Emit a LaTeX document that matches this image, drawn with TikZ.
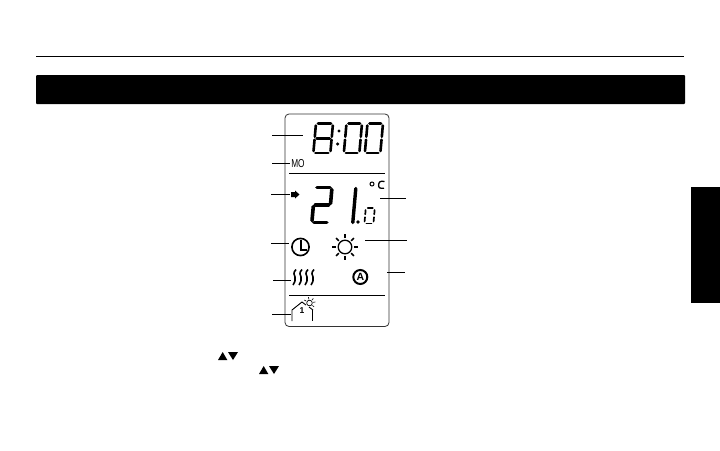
\documentclass[tikz,border=0pt]{standalone}
\usepackage{fontspec}
\setmainfont{Liberation Sans}
\newcommand{\lcdseg}[6]{%
  % #1 x,#2 y,#3 w,#4 h,#5 list of segments,#6 line width
  \begin{scope}[shift={(#1,#2)},xslant=0.09,line width=#6,line cap=round]
  \pgfmathsetmacro{\mw}{#3}\pgfmathsetmacro{\mh}{#4}
  \pgfmathsetmacro{\mm}{#4/2}
  \foreach \s in {#5}{
    \ifcase\s\relax
      \draw[line width=#6] (2,0) -- (\mw-2,0);
    \or \draw[line width=#6] (\mw,2) -- (\mw,\mm-1.5);
    \or \draw[line width=#6] (\mw,\mm+1.5) -- (\mw,\mh-2);
    \or \draw[line width=#6] (2,\mh) -- (\mw-2,\mh);
    \or \draw[line width=#6] (0,\mm+1.5) -- (0,\mh-2);
    \or \draw[line width=#6] (0,2) -- (0,\mm-1.5);
    \or \draw[line width=#6] (2,\mm) -- (\mw-2,\mm);
    \fi
  }
  \end{scope}}
\tikzset{
  leader/.style={draw=black,line width=0.9pt},
  rulethin/.style={draw=black,line width=1pt},
  lcdtext/.style={inner sep=0pt,font=\fontsize{11.5}{11.5}\selectfont},
}
\begin{document}
\begin{tikzpicture}[x=1pt,y=-1pt]
\useasboundingbox (0,0) rectangle (720,450);
\fill[white] (0,0) rectangle (720,450);
% header
\draw[line width=1pt] (36,56.5) -- (684,56.5);
\fill[black,rounded corners=1pt] (36,75) rectangle (685,104);
\fill[black] (691,187) rectangle (720,303);
% LCD frame
\draw[line width=0.8pt,rounded corners=4pt,draw=black!80] (285,114) rectangle (389,326.5);
\draw[rulethin] (289,173) -- (385,173);
\draw[rulethin] (289,295.5) -- (385,295.5);
% top digits
\lcdseg{316}{123.5}{17}{29.5}{0,1,2,3,4,5,6}{2.6pt}
\lcdseg{346.5}{123.5}{15.5}{29.5}{0,1,2,3,4,5}{2.6pt}
\lcdseg{367.5}{123.5}{15.5}{29.5}{0,1,2,3,4,5}{2.6pt}
\fill (339,131) circle (1.7);
\fill (337.6,144) circle (1.7);
% 21.0
\lcdseg{315}{187.5}{17}{35}{0,1,3,4,6}{3.6pt}
\draw[line width=3.4pt,line cap=round] (355.8,188.5) -- (352.8,222.5);
\fill (358,222) circle (1.8);
\lcdseg{365.8}{208}{9}{15.5}{0,1,2,3,4,5}{1.7pt}
% degrees C
\draw[line width=1pt] (372,184) circle (2);
\draw[line width=1.3pt] (384.5,181.5) .. controls (380,180.6) and (378.8,182) .. (378.6,185) .. controls (378.4,188) and (380,188.6) .. (384,188.2);
% MO and arrow
\node[lcdtext,anchor=center] (mo) at (298,163.5) {\scalebox{0.72}[1]{MO}};
\fill (291,192) -- (295,192) -- (295,190.5) -- (299.5,194.5) -- (295,198.5) -- (295,197) -- (291,197) -- cycle;
% clock
\draw[line width=1.6pt] (300.5,247) circle (8.6);
\draw[line width=1.6pt] (300.8,239.5) -- (300.8,249.8) -- (307,249.8);
% sun
\draw[line width=1.3pt] (345,247) circle (6.8);
\foreach \a in {0,45,...,315}{
  \draw[line width=1.5pt] (345,247) ++(\a:8.8) -- ++(\a:3.8);
}
% heat waves
\foreach \x in {296,302,308,314}{
  \draw[line width=1.6pt] (\x,269.5) .. controls (\x-3.5,273) and (\x-1.5,275) .. (\x-1,277) .. controls (\x-0.5,280) and (\x-1,283) .. (\x-3,285);
}
% auto
\draw[line width=2pt] (360.3,277) circle (7);
\node[inner sep=0pt,font=\fontsize{10.5}{10.5}\selectfont\bfseries] (auto) at (360.3,277) {A};
% house
\draw[line width=0.9pt] (292,321) -- (292,310) -- (302,302) -- (306,305);
\draw[line width=0.9pt] (309,307) -- (313,310);
\draw[line width=0.9pt] (312,310) -- (312,321);
\node[inner sep=0pt,font=\fontsize{8.5}{8.5}\selectfont\bfseries] (zone) at (302,311) {1};
\draw[line width=0.7pt] (309.5,303) circle (2.8);
\foreach \a in {-150,-100,-50,-10,40}{
  \draw[line width=0.6pt] (309.5,303) ++(\a:3.8) -- ++(\a:2.2);
}
% leaders
\foreach \n/\xa/\ya/\xb/\yb in {a/272/135/303/135,b/272/163/290/163,c/271/194/290/194,d/271/243/289/243,e/273/280/291/280,f/272/314/291/314,g/380/198/406/198,h/365/240/407/240,i/387/272/405/272}{
  \coordinate (\n1) at (\xa,\ya);
  \coordinate (\n2) at (\xb,\yb);
  \draw[leader] (\n1) -- (\n2);
}
% triangles
\foreach \x/\y in {218/360,259/374}{
  \fill (\x,\y) -- (\x+4.7,\y-8) -- (\x+9.3,\y) -- cycle;
  \fill (\x+10,\y-8) -- (\x+20,\y-8) -- (\x+15,\y) -- cycle;
}
\end{tikzpicture}
\end{document}
